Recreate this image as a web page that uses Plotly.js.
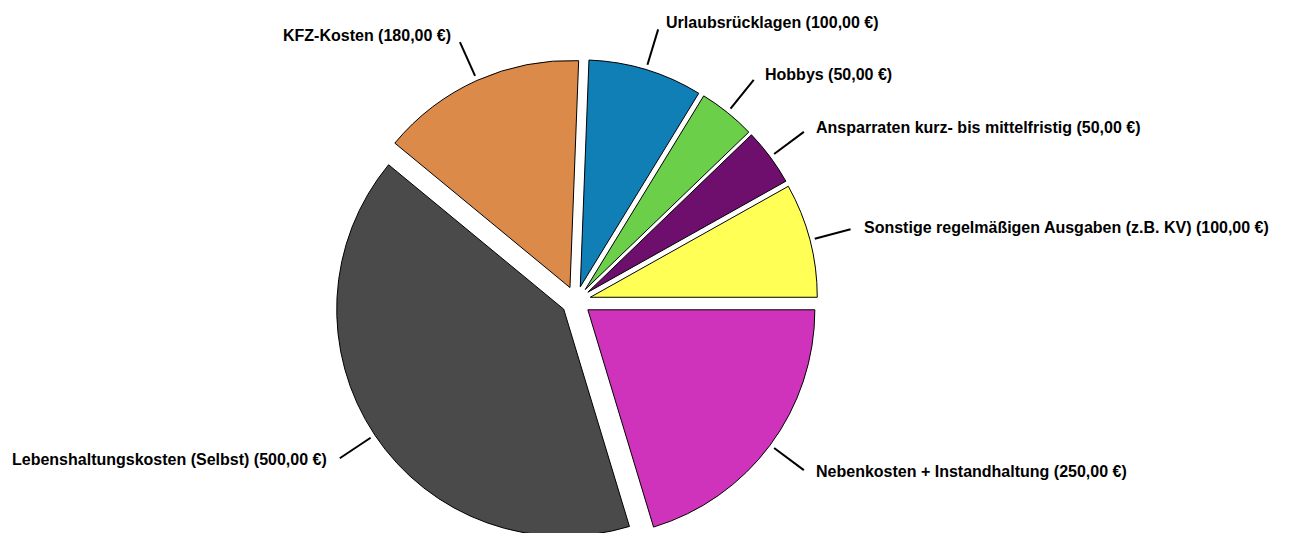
<!DOCTYPE html>
<html><head><meta charset="utf-8">
<script src="https://cdn.plot.ly/plotly-3.0.1.min.js"></script>
<style>html,body{margin:0;padding:0;overflow:hidden;background:#fff}#wrap{width:1290px;height:533px;overflow:hidden}</style>
</head><body><div id="wrap"><div id="chart"></div></div>
<script>
const categories = [
  "Sonstige regelmäßigen Ausgaben (z.B. KV)",
  "Ansparraten kurz- bis mittelfristig",
  "Hobbys",
  "Urlaubsrücklagen",
  "KFZ-Kosten",
  "Lebenshaltungskosten (Selbst)",
  "Nebenkosten + Instandhaltung"
];
const amounts = [100, 50, 50, 100, 180, 500, 250];
const sliceColors = ["#ffff55", "#6e0f6e", "#6bcf4a", "#0f7fb5", "#dc8a4a", "#4a4a4a", "#d033bb"];

const W = 1290, H = 560;
const CX = 576, CY = 301, R = 227, PULL = 0.065;
const outerR = R * (1 + PULL);

function fmt(v){ return v.toFixed(2).replace('.', ',') + ' €'; }
const labelTexts = categories.map((c, i) => c + ' (' + fmt(amounts[i]) + ')');

const total = amounts.reduce((a, b) => a + b, 0);
const shapes = [], annotations = [];
let start = 0;
amounts.forEach((v, i) => {
  const span = v / total * 360;
  const mid = (start + span / 2) * Math.PI / 180;
  start += span;
  const c = Math.cos(mid), s = Math.sin(mid);
  const ax = CX + PULL * R * c, ay = CY - PULL * R * s;
  const x1 = ax + (R + 5) * c, y1 = ay - (R + 5) * s;
  const x2 = ax + (R + 42) * c, y2 = ay - (R + 42) * s;
  shapes.push({type: 'line', xref: 'paper', yref: 'paper',
    x0: x1 / W, y0: 1 - y1 / H, x1: x2 / W, y1: 1 - y2 / H,
    line: {color: '#000', width: 2}});
  const sign = c >= 0 ? 1 : -1;
  const tx = x2 + sign * (4 + 8 * Math.abs(c));
  const ty = y2 + (s > 0 ? -7 * s : 1);
  annotations.push({xref: 'paper', yref: 'paper', x: tx / W, y: 1 - ty / H,
    xanchor: c >= 0 ? 'left' : 'right', yanchor: 'middle', showarrow: false,
    text: labelTexts[i],
    font: {family: 'Liberation Sans, Arial, sans-serif', size: 16, color: '#000', weight: 700}});
});

const trace = {
  type: 'pie',
  values: amounts,
  labels: categories,
  sort: false,
  direction: 'counterclockwise',
  rotation: 90 - amounts[0] / total * 360,
  pull: amounts.map(() => PULL),
  textinfo: 'none',
  hoverinfo: 'none',
  marker: {colors: sliceColors, line: {color: '#000', width: 1}},
  domain: {x: [(CX - outerR) / W, (CX + outerR) / W], y: [1 - (CY + outerR) / H, 1 - (CY - outerR) / H]}
};

Plotly.newPlot('chart', [trace], {
  width: W, height: H,
  margin: {l: 0, r: 0, t: 0, b: 0},
  paper_bgcolor: '#fff',
  showlegend: false,
  shapes: shapes,
  annotations: annotations
}, {displayModeBar: false, staticPlot: true});
</script>
</body></html>
